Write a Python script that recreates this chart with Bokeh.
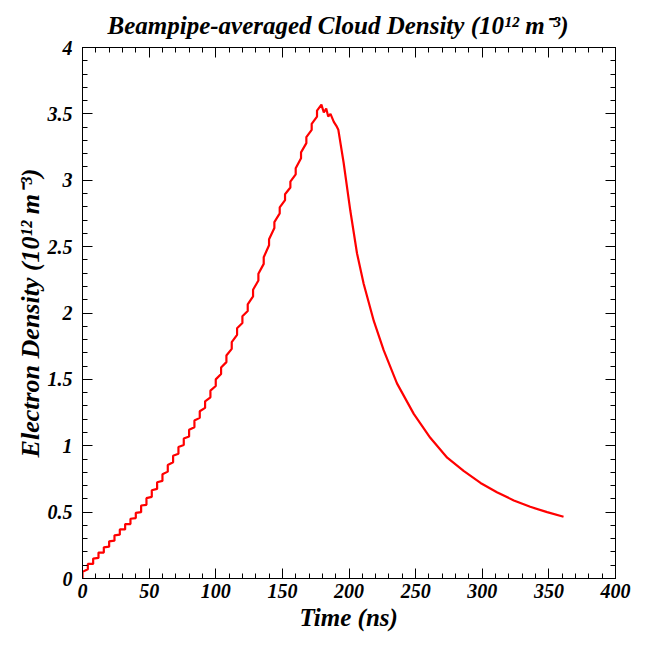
from bokeh.plotting import figure
from bokeh.models import LinearAxis, FixedTicker, CustomJSTickFormatter, Range1d, Title
from bokeh.embed import file_html
from bokeh.resources import INLINE

# ---------------- data ----------------
bunch_times = [0, 4, 8, 12, 16, 20, 24, 28, 32, 36, 40, 44, 48, 52, 56, 60, 64, 68, 72, 76,
               80, 84, 88, 92, 96, 100, 104, 108, 112, 116, 120, 124, 128, 132, 136, 140,
               144, 148, 152, 156, 160, 164, 168, 172, 176]
# density just before / just after each bunch passage
bunch_before = [0.00, 0.07, 0.11, 0.155, 0.195, 0.24, 0.285, 0.33, 0.37, 0.41, 0.455,
                0.50, 0.555, 0.615, 0.675, 0.735, 0.805, 0.875, 0.94, 1.005, 1.07,
                1.14, 1.21, 1.285, 1.365, 1.45, 1.54, 1.63, 1.73, 1.835, 1.925,
                2.015, 2.125, 2.245, 2.37, 2.51, 2.64, 2.75, 2.85, 2.945, 3.045,
                3.165, 3.28, 3.38, 3.48]
bunch_after = [0.05, 0.11, 0.15, 0.195, 0.235, 0.28, 0.325, 0.37, 0.41, 0.45, 0.495,
               0.55, 0.605, 0.665, 0.725, 0.785, 0.855, 0.925, 0.99, 1.055, 1.12,
               1.19, 1.26, 1.335, 1.415, 1.50, 1.59, 1.68, 1.78, 1.885, 1.975,
               2.065, 2.175, 2.295, 2.42, 2.555, 2.685, 2.795, 2.895, 2.99, 3.09,
               3.21, 3.325, 3.425, 3.525]
peak_times = [179.3, 181.1, 182.9, 184.4, 186.1, 188.6, 190.5]
peak_density = [3.57, 3.51, 3.54, 3.48, 3.50, 3.44, 3.41]
decay_times = [192, 196, 201, 206, 211, 218.6, 226, 236, 248.6, 261, 273.7, 286, 298.7,
               311, 323.7, 336, 348.7, 361]
decay_density = [3.38, 3.13, 2.77, 2.45, 2.22, 1.94, 1.72, 1.47, 1.24, 1.06, 0.91, 0.81,
                 0.72, 0.65, 0.588, 0.54, 0.50, 0.465]

x_ticks = [0, 50, 100, 150, 200, 250, 300, 350, 400]
x_tick_labels = ["0", "50", "100", "150", "200", "250", "300", "350", "400"]
y_ticks = [0, 0.5, 1, 1.5, 2, 2.5, 3, 3.5, 4]
y_tick_labels = ["0", "0.5", "1", "1.5", "2", "2.5", "3", "3.5", "4"]

title_text = "Beampipe-averaged Cloud Density (10\u00b9\u00b2 m\u207b\u00b3)"
x_title = "Time (ns)"
y_title = "Electron Density (10\u00b9\u00b2 m\u207b\u00b3)"

# ---------------- build the sawtooth line ----------------
xs, ys = [], []
for t, b, a in zip(bunch_times, bunch_before, bunch_after):
    xs += [t, t]
    ys += [b, a]
xs += peak_times + decay_times
ys += peak_density + decay_density

W, H = 633, 633
L, R, T, B = 82, 18, 47, 55
FONT = "Liberation Serif"

p = figure(width=W, height=H, output_backend="svg", toolbar_location=None,
           x_range=Range1d(0, 400), y_range=Range1d(0, 4),
           min_border_left=L, min_border_right=R, min_border_top=T, min_border_bottom=B)
p.xgrid.visible = False
p.ygrid.visible = False
p.outline_line_color = "black"
p.outline_line_width = 1
p.background_fill_color = "white"
p.border_fill_color = "white"

x_minor = [v * 10 for v in range(0, 41)]
y_minor = [v * 0.1 for v in range(0, 41)]

def style(ax):
    ax.major_tick_in = 10
    ax.major_tick_out = 0
    ax.minor_tick_in = 5
    ax.minor_tick_out = 0
    ax.axis_line_color = "black"
    ax.major_tick_line_color = "black"
    ax.minor_tick_line_color = "black"
    ax.major_label_text_font = FONT
    ax.major_label_text_font_style = "bold italic"
    ax.major_label_text_font_size = "20px"
    ax.major_label_text_color = "black"

xax = p.xaxis[0]
xax.ticker = FixedTicker(ticks=x_ticks, minor_ticks=x_minor)
xax.major_label_overrides = {t: s for t, s in zip(x_ticks, x_tick_labels)}
style(xax)
xax.major_label_standoff = 5

yax = p.yaxis[0]
yax.ticker = FixedTicker(ticks=y_ticks, minor_ticks=y_minor)
yax.major_label_overrides = {t: s for t, s in zip(y_ticks, y_tick_labels)}
style(yax)
yax.major_label_standoff = 10
yax.axis_label = y_title
yax.axis_label_text_font = FONT
yax.axis_label_text_font_style = "bold italic"
yax.axis_label_text_font_size = "26px"
yax.axis_label_text_color = "black"
yax.axis_label_standoff = 0

blank = CustomJSTickFormatter(code="return ''")
top = LinearAxis(ticker=FixedTicker(ticks=x_ticks, minor_ticks=x_minor), formatter=blank)
style(top)
top.major_label_text_font_size = "0px"
top.major_label_standoff = 0
p.add_layout(top, "above")
right = LinearAxis(ticker=FixedTicker(ticks=y_ticks, minor_ticks=y_minor), formatter=blank)
style(right)
right.major_label_text_font_size = "0px"
right.major_label_standoff = 0
p.add_layout(right, "right")

p.add_layout(Title(text=title_text, align="left", offset=25, standoff=17,
                   text_font=FONT, text_font_style="bold italic",
                   text_font_size="25px", text_color="black"), "above")
p.add_layout(Title(text=x_title, align="left", offset=217, standoff=2,
                   text_font=FONT, text_font_style="bold italic",
                   text_font_size="25px", text_color="black"), "below")

p.line(xs, ys, line_color="#ff0000", line_width=2.2)

open("out.html", "w").write(file_html(p, INLINE))
